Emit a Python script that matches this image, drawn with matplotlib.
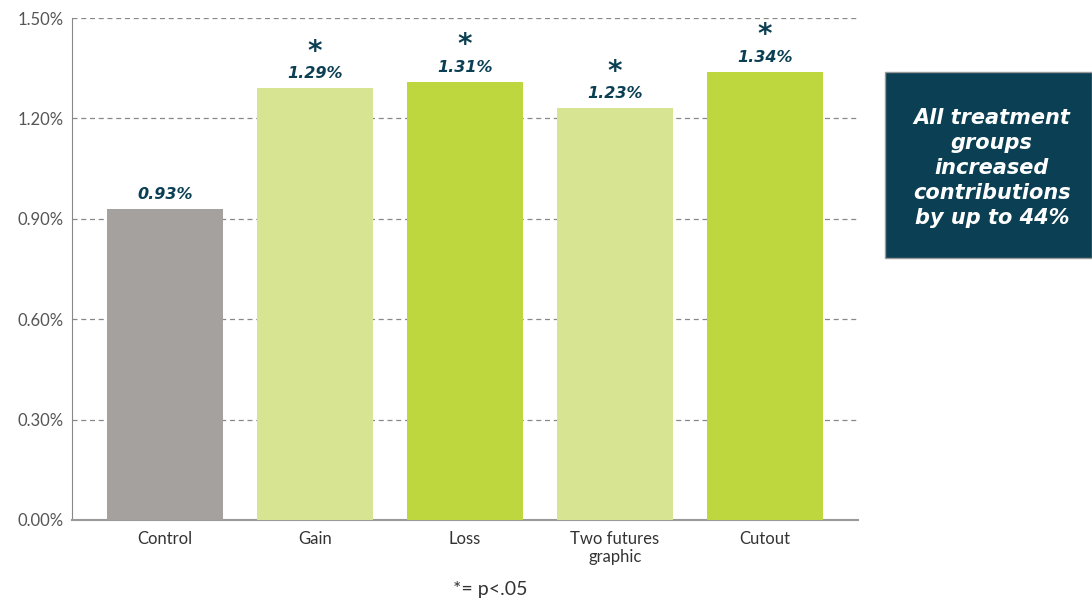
import matplotlib
matplotlib.use("Agg")
import matplotlib.pyplot as plt
from matplotlib.patches import Rectangle

categories = ["Control", "Gain", "Loss", "Two futures\ngraphic", "Cutout"]
values = [0.93, 1.29, 1.31, 1.23, 1.34]
significant = [False, True, True, True, True]
bar_colors = ["#a5a19f", "#d7e491", "#bed73e", "#d7e491", "#bed73e"]
y_ticks = [0.0, 0.3, 0.6, 0.9, 1.2, 1.5]
callout_text = "All treatment\ngroups\nincreased\ncontributions\nby up to 44%"
footnote = "*= p<.05"

dark = "#0b3f53"
grey_txt = "#555555"

fig = plt.figure(figsize=(10.92, 6.0), dpi=100)
ax = fig.add_axes([72/1092, 1-520/600, (858-72)/1092, (520-18)/600])

x = list(range(len(categories)))
ax.bar(x, values, width=0.767, color=bar_colors, zorder=3)
ax.set_xlim(-0.62, 4.62)
ax.set_ylim(0, 1.5)
ax.set_yticks(y_ticks)
ax.set_yticklabels([f"{v:.2f}%" for v in y_ticks], fontsize=12, color=grey_txt, family="Lato")
ax.set_xticks(x)
ax.set_xticklabels(categories, fontsize=12, color="#333333", family="Lato", linespacing=1.15)
ax.tick_params(axis="both", length=0, pad=6)
ax.tick_params(axis="x", pad=8)
ax.grid(axis="y", linestyle=(0, (4, 3)), color="#888888", linewidth=0.9, zorder=1)
for s in ["top", "right"]:
    ax.spines[s].set_visible(False)
ax.spines["left"].set_color("#888888")
ax.spines["bottom"].set_color("#999999")
ax.spines["bottom"].set_linewidth(1.5)

for xi, v, sig in zip(x, values, significant):
    ax.annotate(f"{v:.2f}%", (xi, v), xytext=(0, 5), textcoords="offset points",
                ha="center", va="bottom", fontsize=11.5, fontweight="bold", fontstyle="italic",
                color=dark, family="DejaVu Sans")
    if sig:
        ax.annotate("*", (xi, v), xytext=(0, 16), textcoords="offset points",
                    ha="center", va="bottom", fontsize=20, fontweight="bold",
                    color=dark, family="DejaVu Sans")

fig.patches.append(Rectangle((885/1092, 1-258/600), (1092-885)/1092, (258-72)/600,
                             transform=fig.transFigure, facecolor=dark, edgecolor="#999999",
                             linewidth=1.0, zorder=5))
fig.text(992/1092, 1-168/600, callout_text, ha="center", va="center", color="white",
         fontsize=15, fontweight="bold", fontstyle="italic", family="DejaVu Sans",
         linespacing=1.3, zorder=6)

fig.text(490/1092, 1-590/600, footnote, ha="center", va="center", fontsize=14,
         color="#333333", family="Lato")

fig.savefig("out.png", dpi=100)
